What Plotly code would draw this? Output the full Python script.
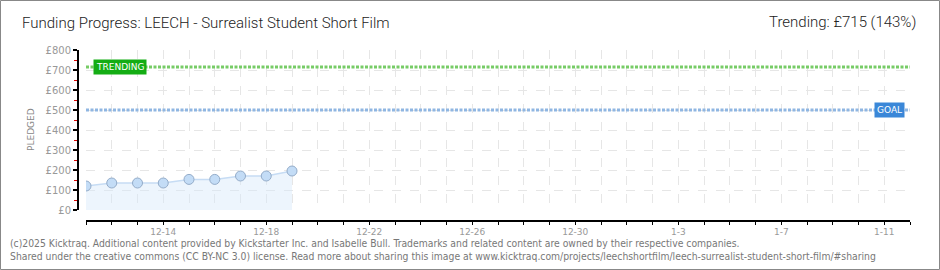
import plotly.graph_objects as go

# ---- data ----
dates = ["2024-12-11", "2024-12-12", "2024-12-13", "2024-12-14", "2024-12-15",
         "2024-12-16", "2024-12-17", "2024-12-18", "2024-12-19"]
pledged = [120, 135, 135, 135, 153, 153, 170, 170, 195]
goal = 500
trending = 715
x_start = "2024-12-11"
x_end = "2025-01-12"
day_ticks = ["2024-12-%02d" % d for d in range(11, 32)] + ["2025-01-%02d" % d for d in range(1, 13)]
label_days = {"2024-12-14": "12-14", "2024-12-18": "12-18", "2024-12-22": "12-22",
              "2024-12-26": "12-26", "2024-12-30": "12-30", "2025-01-03": "1-3",
              "2025-01-07": "1-7", "2025-01-11": "1-11"}
y_ticks = [0, 100, 200, 300, 400, 500, 600, 700, 800]
y_labels = ["£0", "£100", "£200", "£300", "£400", "£500", "£600", "£700", "£800"]
title_text = "Funding Progress: LEECH - Surrealist Student Short Film"
trend_text = "Trending: £715 (143%)"
footer1 = ("(c)2025 Kicktraq. Additional content provided by Kickstarter Inc. and Isabelle Bull. "
           "Trademarks and related content are owned by their respective companies.")
footer2 = ("Shared under the creative commons (CC BY-NC 3.0) license. Read more about sharing this image at "
           "www.kicktraq.com/projects/leechshortfilm/leech-surrealist-student-short-film/#sharing")

W, H = 940, 270
ML, MR, MT, MB = 77, 30, 50, 50
PW = W - ML - MR
PH = H - MT - MB

fig = go.Figure()

fig.add_trace(go.Scatter(
    x=[x_start, x_end], y=[trending, trending], mode="lines",
    line=dict(color="#77cc66", width=3, dash="3px,1.5px"), hoverinfo="skip", showlegend=False))
fig.add_trace(go.Scatter(
    x=[x_start, x_end], y=[goal, goal], mode="lines",
    line=dict(color="#8fb6e2", width=3, dash="3px,1.5px"), hoverinfo="skip", showlegend=False))
fig.add_trace(go.Scatter(
    x=dates, y=pledged, mode="lines+markers", fill="tozeroy",
    fillcolor="rgba(215,232,250,0.45)",
    line=dict(color="#c6dcf4", width=1.5),
    marker=dict(size=10, color="#c3dcf6", line=dict(color="#94acc9", width=1)),
    showlegend=False))

ticktext = [label_days.get(d, "") for d in day_ticks]

fig.update_layout(
    width=W, height=H, autosize=False,
    margin=dict(l=ML, r=MR, t=MT, b=MB),
    paper_bgcolor="white", plot_bgcolor="white",
    xaxis=dict(
        type="date", range=[x_start, x_end], domain=[9 / PW, 1],
        anchor="free", position=0,
        tickmode="array", tickvals=day_ticks, ticktext=ticktext,
        ticks="outside", ticklen=3, tickwidth=1, tickcolor="#000",
        showline=True, linecolor="#000", linewidth=1.5,
        showgrid=True, gridcolor="#e6e6e6", griddash="dash", gridwidth=1,
        tickfont=dict(family="DejaVu Sans", size=9, color="#999"),
        zeroline=False, fixedrange=True,
    ),
    yaxis=dict(
        range=[0, 800], domain=[10 / PH, 1],
        anchor="free", position=0,
        tickmode="array", tickvals=y_ticks, ticktext=y_labels,
        ticks="outside", ticklen=4, tickwidth=1.5, tickcolor="#000",
        minor=dict(dtick=50, ticklen=3, tickcolor="#e00000", tickwidth=1, showgrid=False, ticks="outside"),
        showline=True, linecolor="#000", linewidth=1.5,
        showgrid=True, gridcolor="#e6e6e6", griddash="dash", gridwidth=1,
        tickfont=dict(family="DejaVu Sans", size=10, color="#999"),
        zeroline=False, fixedrange=True,
    ),
    annotations=[
        dict(text="TRENDING", x=x_start, y=trending, xref="x", yref="y", xanchor="left", yanchor="middle",
             xshift=7, showarrow=False, bgcolor="#14ad14", borderpad=2,
             font=dict(family="DejaVu Sans", size=9, color="white")),
        dict(text="GOAL", x=x_end, y=goal, xref="x", yref="y", xanchor="right", yanchor="middle",
             xshift=-5, showarrow=False, bgcolor="#3a87d8", borderpad=2,
             font=dict(family="DejaVu Sans", size=9, color="white")),
        dict(text="PLEDGED", x=(31 - ML) / PW, y=(H - MB - 130) / PH, xref="paper", yref="paper",
             textangle=-90, showarrow=False, xanchor="center", yanchor="middle",
             font=dict(family="DejaVu Sans", size=9, color="#888")),
        dict(text=title_text, x=(20 - ML) / PW, y=(H - MB - 23) / PH, xref="paper", yref="paper",
             xanchor="left", yanchor="middle", showarrow=False,
             font=dict(family="Roboto", size=15, weight=300, color="#222")),
        dict(text=trend_text, x=(918 - ML) / PW, y=(H - MB - 22) / PH, xref="paper", yref="paper",
             xanchor="right", yanchor="middle", showarrow=False,
             font=dict(family="Roboto", size=15, weight=300, color="#222")),
        dict(text=footer1, x=(8 - ML) / PW, y=(H - MB - 243) / PH, xref="paper", yref="paper",
             xanchor="left", yanchor="middle", showarrow=False,
             font=dict(family="DejaVu Sans Condensed", size=10.3, color="#777")),
        dict(text=footer2, x=(8 - ML) / PW, y=(H - MB - 256) / PH, xref="paper", yref="paper",
             xanchor="left", yanchor="middle", showarrow=False,
             font=dict(family="DejaVu Sans Condensed", size=10.3, color="#777")),
    ],
    shapes=[
        dict(type="rect", xref="paper", yref="paper",
             x0=(0.5 - ML) / PW, x1=(W - 0.5 - ML) / PW,
             y0=(H - MB - (H - 0.5)) / PH, y1=(H - MB - 0.5) / PH,
             line=dict(color="#888", width=1), fillcolor="rgba(0,0,0,0)", layer="above"),
    ],
)

fig.write_html("out.html", config={"displayModeBar": False, "staticPlot": True})
